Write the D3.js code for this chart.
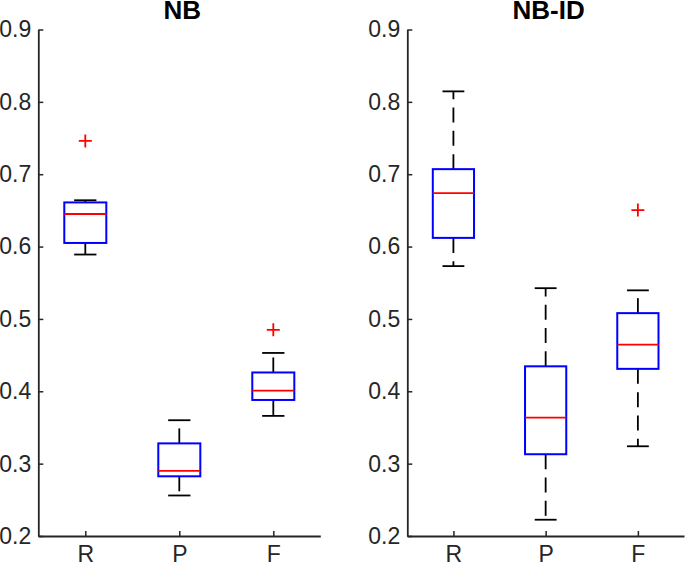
<!DOCTYPE html>
<html>
<head>
<meta charset="utf-8">
<script src="https://cdn.jsdelivr.net/npm/d3@7"></script>
<style>
  html, body { margin: 0; padding: 0; background: #fff; }
  svg { display: block; }
  text { font-family: "Liberation Sans", Arial, sans-serif; }
</style>
</head>
<body>
<svg id="chart" width="685" height="564"></svg>
<script>
// ---- data ----
const categories = ["R", "P", "F"];
const yTicks = [0.2, 0.3, 0.4, 0.5, 0.6, 0.7, 0.8, 0.9];
const panelTitles = ["NB", "NB-ID"];

// NB panel
const nbLowerWhisker = [0.589, 0.256, 0.366];
const nbQ1           = [0.605, 0.2825, 0.388];
const nbMedian       = [0.645, 0.290, 0.401];
const nbQ3           = [0.661, 0.328, 0.426];
const nbUpperWhisker = [0.664, 0.360, 0.453];
const nbOutliers     = [[0.746], [], [0.485]];

// NB-ID panel
const nbidLowerWhisker = [0.573, 0.2225, 0.324];
const nbidQ1           = [0.612, 0.313, 0.431];
const nbidMedian       = [0.674, 0.3635, 0.4645];
const nbidQ3           = [0.707, 0.4345, 0.508];
const nbidUpperWhisker = [0.8145, 0.5425, 0.5395];
const nbidOutliers     = [[], [], [0.6505]];

// ---- build ----
function buildStats(lo, q1, med, q3, hi, outs) {
  return categories.map((c, i) => ({
    cat: c, lo: lo[i], q1: q1[i], med: med[i], q3: q3[i], hi: hi[i], outs: outs[i]
  }));
}
const panels = [
  { title: panelTitles[0], x0: 38.3, x1: 320.3,
    stats: buildStats(nbLowerWhisker, nbQ1, nbMedian, nbQ3, nbUpperWhisker, nbOutliers) },
  { title: panelTitles[1], x0: 407.3, x1: 684,
    stats: buildStats(nbidLowerWhisker, nbidQ1, nbidMedian, nbidQ3, nbidUpperWhisker, nbidOutliers) }
];

const svg = d3.select("#chart");
const axisColor = "#262626";
const y = d3.scaleLinear().domain([0.2, 0.9]).range([536, 29.5]);

panels.forEach(p => {
  const x = d3.scaleLinear().domain([0.5, categories.length + 0.5]).range([p.x0, p.x1]);
  const step = x(2) - x(1);
  const boxW = step * 0.447;
  const capW = boxW * 0.53;
  const g = svg.append("g");

  // y axis
  const ya = g.append("g").attr("transform", `translate(${p.x0},0)`)
    .call(d3.axisLeft(y).tickValues(yTicks).tickFormat(d3.format(".1f"))
      .tickSizeInner(-5).tickSizeOuter(0).tickPadding(7));
  // x axis
  const xa = g.append("g").attr("transform", `translate(0,${y(0.2)})`)
    .call(d3.axisBottom(x).tickValues(categories.map((c, i) => i + 1))
      .tickFormat((d, i) => categories[i])
      .tickSizeInner(-5).tickSizeOuter(0).tickPadding(10));
  [ya, xa].forEach(a => {
    a.select(".domain").attr("stroke", axisColor).attr("stroke-width", 1.8);
    a.selectAll(".tick line").attr("stroke", axisColor).attr("stroke-width", 1.5);
    a.selectAll(".tick text").attr("fill", axisColor).attr("font-size", 23)
      .attr("font-family", "'Liberation Sans', Arial, sans-serif");
  });

  // title
  g.append("text")
    .attr("x", (p.x0 + p.x1) / 2 + 3)
    .attr("y", 19)
    .attr("text-anchor", "middle")
    .attr("font-size", 26)
    .attr("font-weight", "bold")
    .attr("fill", "#000")
    .text(p.title);

  p.stats.forEach((s, i) => {
    const cx = x(i + 1);
    // whiskers (dashed, from box edge outward)
    g.append("line").attr("x1", cx).attr("x2", cx)
      .attr("y1", y(s.q3)).attr("y2", y(s.hi))
      .attr("stroke", "#000").attr("stroke-width", 1.8).attr("stroke-dasharray", "15,8.3");
    g.append("line").attr("x1", cx).attr("x2", cx)
      .attr("y1", y(s.q1)).attr("y2", y(s.lo))
      .attr("stroke", "#000").attr("stroke-width", 1.8).attr("stroke-dasharray", "15,8.3");
    // caps
    [s.hi, s.lo].forEach(v => {
      g.append("line").attr("x1", cx - capW / 2).attr("x2", cx + capW / 2)
        .attr("y1", y(v)).attr("y2", y(v))
        .attr("stroke", "#000").attr("stroke-width", 1.8);
    });
    // box
    g.append("rect")
      .attr("x", cx - boxW / 2).attr("width", boxW)
      .attr("y", y(s.q3)).attr("height", y(s.q1) - y(s.q3))
      .attr("fill", "none").attr("stroke", "#0000ff").attr("stroke-width", 2);
    // median
    g.append("line").attr("x1", cx - boxW / 2).attr("x2", cx + boxW / 2)
      .attr("y1", y(s.med)).attr("y2", y(s.med))
      .attr("stroke", "#ff0000").attr("stroke-width", 1.8);
    // outliers
    s.outs.forEach(v => {
      const oy = y(v), h = 6.5;
      g.append("path")
        .attr("d", `M${cx - h},${oy}H${cx + h}M${cx},${oy - h}V${oy + h}`)
        .attr("stroke", "#ff0000").attr("stroke-width", 1.8).attr("fill", "none");
    });
  });
});
</script>
</body>
</html>
